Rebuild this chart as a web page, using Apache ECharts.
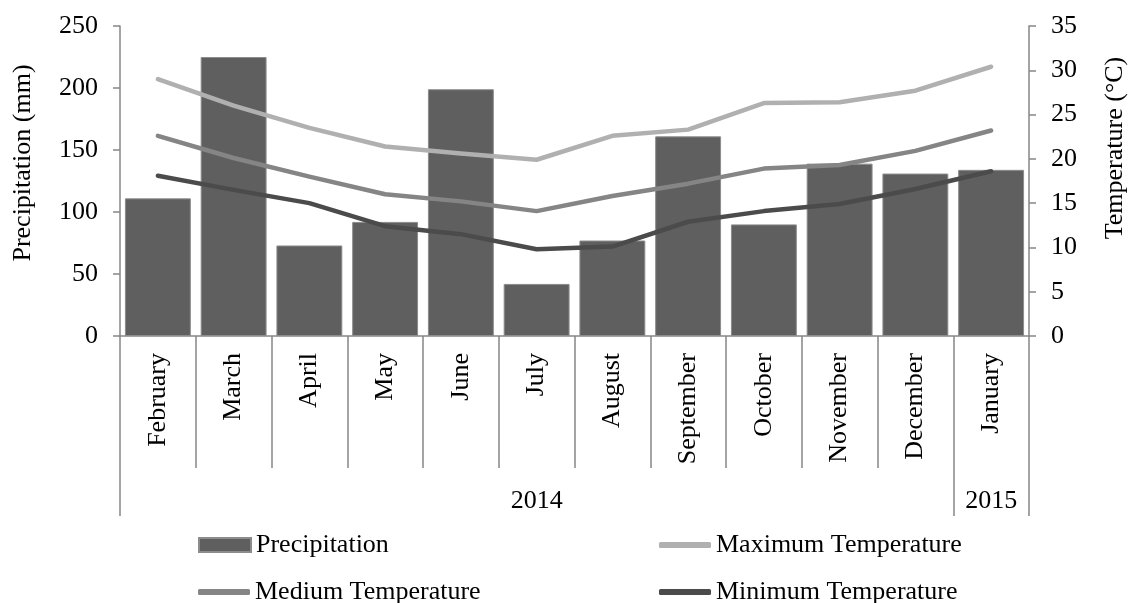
<!DOCTYPE html>
<html>
<head>
<meta charset="utf-8">
<script src="https://cdn.jsdelivr.net/npm/echarts@6/dist/echarts.min.js"></script>
<style>html,body{margin:0;padding:0;background:#fff;}#c{width:1128px;height:603px;}</style>
</head>
<body>
<div id="c"></div>
<script>
const months = ['February','March','April','May','June','July','August','September','October','November','December','January'];
const yearOfMonth = ['2014','2014','2014','2014','2014','2014','2014','2014','2014','2014','2014','2015'];
const precipitation = [111, 225, 73, 92, 199, 42, 77, 161, 90, 139, 131, 134];
const maxTemp = [29.0, 26.0, 23.5, 21.4, 20.6, 19.9, 22.6, 23.3, 26.3, 26.4, 27.7, 30.4];
const medTemp = [22.6, 20.1, 18.0, 16.0, 15.2, 14.1, 15.8, 17.2, 18.9, 19.3, 20.9, 23.2];
const minTemp = [18.1, 16.5, 15.0, 12.4, 11.5, 9.8, 10.1, 12.9, 14.1, 14.9, 16.6, 18.6];
const precipTicks = {min: 0, max: 250, interval: 50};
const tempTicks = {min: 0, max: 35, interval: 5};

// middle index of each year group
const groupMid = {};
(function(){
  const first = {}, last = {};
  yearOfMonth.forEach((y,i)=>{ if(!(y in first)) first[y]=i; last[y]=i; });
  Object.keys(first).forEach(y=>{ groupMid[Math.round((first[y]+last[y])/2)] = y; });
})();

const FONT = 'Liberation Serif';
const AX = '#868686';
const chart = echarts.init(document.getElementById('c'), null, {renderer:'canvas'});
const txt = {fontFamily: FONT, fontSize: 26, color: '#000'};

const legendBase = {orient:'horizontal', itemWidth:52, itemHeight:14, itemGap:10, textStyle: Object.assign({}, txt), selectedMode:false, padding:0};
const lineLegend = {itemHeight:6, itemWidth:52};

chart.setOption({
  animation: false,
  grid: {left: 120, right: 99, top: 26, bottom: 267, containLabel: false, outerBoundsMode: 'none'},
  legend: [
    Object.assign({}, legendBase, {left:198, top:532, data:[{name:'Precipitation', icon:'rect'}]}),
    Object.assign({}, legendBase, lineLegend, {left:659, top:532, data:[{name:'Maximum Temperature', icon:'roundRect'}]}),
    Object.assign({}, legendBase, lineLegend, {left:198, top:579, data:[{name:'Medium Temperature', icon:'roundRect'}]}),
    Object.assign({}, legendBase, lineLegend, {left:659, top:579, data:[{name:'Minimum Temperature', icon:'roundRect'}]})
  ],
  xAxis: [
    {
      type:'category', data: months, position:'bottom',
      axisLine:{show:true, lineStyle:{color:AX, width:1.5}},
      axisTick:{show:true, interval:0, length:132, lineStyle:{color:AX, width:1.5}},
      axisLabel:Object.assign({interval:0, rotate:90, margin:17}, txt),
      splitLine:{show:false}
    },
    {
      type:'category', data: months, position:'bottom',
      axisLine:{show:false},
      axisTick:{show:true, length:180, interval:function(i){ return i===0 || yearOfMonth[i]!==yearOfMonth[i-1]; }, lineStyle:{color:AX, width:1.5}},
      axisLabel:Object.assign({interval:0, margin:152, formatter:function(v,i){ return groupMid[i] || ''; }}, txt),
      splitLine:{show:false}
    }
  ],
  yAxis: [
    {
      type:'value', position:'left', min:precipTicks.min, max:precipTicks.max, interval:precipTicks.interval,
      name:'Precipitation (mm)', nameLocation:'middle', nameRotate:90, nameGap:84,
      nameTextStyle:Object.assign({padding:[0,0,0,36]}, txt),
      axisLine:{show:true, lineStyle:{color:AX, width:1.5}},
      axisTick:{show:true, length:7, lineStyle:{color:AX, width:1.5}},
      axisLabel:Object.assign({margin:22}, txt),
      splitLine:{show:false}
    },
    {
      type:'value', position:'right', min:tempTicks.min, max:tempTicks.max, interval:tempTicks.interval,
      name:'Temperature (°C)', nameLocation:'middle', nameRotate:90, nameGap:73,
      nameTextStyle:Object.assign({padding:[0,0,0,66]}, txt),
      axisLine:{show:true, lineStyle:{color:AX, width:1.5}},
      axisTick:{show:true, length:7, lineStyle:{color:AX, width:1.5}},
      axisLabel:Object.assign({margin:22}, txt),
      splitLine:{show:false}
    }
  ],
  series: [
    {name:'Precipitation', type:'bar', xAxisIndex:0, yAxisIndex:0, data:precipitation, barCategoryGap:'13%',
     itemStyle:{color:'#5f5f5f', borderColor:'#8c8c8c', borderWidth:1}},
    {name:'Maximum Temperature', type:'line', xAxisIndex:0, yAxisIndex:1, data:maxTemp, symbol:'none',
     lineStyle:{color:'#b0b0b0', width:4.5, cap:'round', join:'round'}, itemStyle:{color:'#b0b0b0'}},
    {name:'Medium Temperature', type:'line', xAxisIndex:0, yAxisIndex:1, data:medTemp, symbol:'none',
     lineStyle:{color:'#858585', width:4.5, cap:'round', join:'round'}, itemStyle:{color:'#858585'}},
    {name:'Minimum Temperature', type:'line', xAxisIndex:0, yAxisIndex:1, data:minTemp, symbol:'none',
     lineStyle:{color:'#4b4b4b', width:4.5, cap:'round', join:'round'}, itemStyle:{color:'#4b4b4b'}}
  ]
});
</script>
</body>
</html>
